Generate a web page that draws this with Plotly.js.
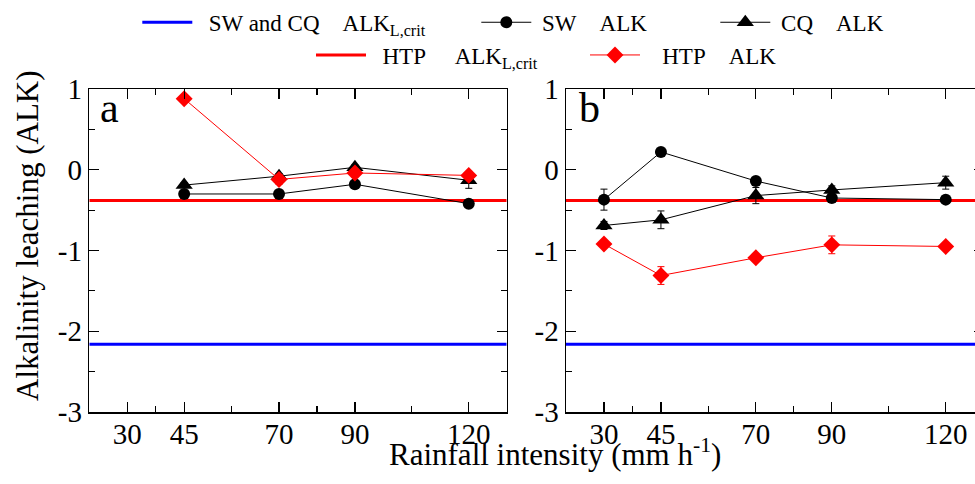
<!DOCTYPE html>
<html><head><meta charset="utf-8">
<script src="https://cdn.plot.ly/plotly-3.0.1.min.js"></script>
<style>html,body{margin:0;padding:0;overflow:hidden;background:#fff}</style>
</head><body><div id="chart" style="width:990px;height:484px"></div>
<script>
// Panel a (HTP / SW / CQ at 45-120 mm/h)
const xA = [45, 70, 90, 120];
const swA = [-0.30, -0.30, -0.18, -0.42];
const swAerr = [0.02, 0.02, 0.03, 0.03];
const cqA = [-0.19, -0.08, 0.03, -0.13];
const cqAerr = [0.03, 0.03, 0.03, 0.10];
const htpA = [0.88, -0.12, -0.04, -0.07];
const htpAerr = [0.02, 0.06, 0.05, 0.03];

// Panel b (30-120 mm/h)
const xB = [30, 45, 70, 90, 120];
const swB = [-0.37, 0.22, -0.14, -0.35, -0.37];
const swBerr = [0.13, 0.02, 0.03, 0.03, 0.03];
const cqB = [-0.69, -0.62, -0.32, -0.25, -0.16];
const cqBerr = [0.05, 0.11, 0.10, 0.05, 0.08];
const htpB = [-0.92, -1.31, -1.09, -0.93, -0.95];
const htpBerr = [0.03, 0.11, 0.03, 0.11, 0.03];

// Critical ALK values
const critSWCQ = -2.16;
const critHTP = -0.38;

const xRange = [20, 130];
const yRange = [-3, 1];
const xTicks = [30, 45, 70, 90, 120];
const xMinorTicks = [37.5, 57.5, 80, 105];
const yTicks = [-3, -2, -1, 0, 1];
const yTickText = ['-3', '-2', '-1', '0', '1'];
const yMinorTicks = [-2.5, -1.5, -0.5, 0.5];

const labels = {
  critSWCQ: '\u00a0\u00a0SW and CQ\u00a0\u00a0\u00a0\u00a0ALK<sub>L,crit</sub>',
  sw: '\u00a0SW\u00a0\u00a0\u00a0\u00a0ALK',
  cq: '\u00a0CQ\u00a0\u00a0\u00a0\u00a0ALK',
  critHTP: '\u00a0\u00a0HTP\u00a0\u00a0\u00a0\u00a0\u00a0ALK<sub>L,crit</sub>',
  htp: '\u00a0\u00a0\u00a0HTP\u00a0\u00a0\u00a0\u00a0ALK'
};

const FONT = 'Liberation Serif';
const W = 990, H = 484;
const mT = 89, mB = 72;
const PH = H - mT - mB;

function critLine(val, color, xa, ya, show, name, legend, rank, width) {
  return {
    type: 'scatter', mode: 'lines', x: xRange, y: [val, val], xaxis: xa, yaxis: ya,
    line: {color: color, width: 3}, name: name, showlegend: show, legend: legend,
    legendrank: rank, legendwidth: width, hoverinfo: 'skip', cliponaxis: false
  };
}
function series(x, y, err, color, sym, size, xa, ya, show, name, legend, rank, width) {
  return {
    type: 'scatter', mode: 'lines+markers', x: x, y: y, xaxis: xa, yaxis: ya,
    line: {color: color, width: 1},
    marker: {symbol: sym, size: size, color: color},
    error_y: {type: 'data', array: err, color: color, thickness: 1, width: 3.5},
    name: name, showlegend: show, legend: legend, legendrank: rank, legendwidth: width,
    cliponaxis: false
  };
}

const traces = [
  critLine(critSWCQ, '#0000ff', 'x', 'y', true, labels.critSWCQ, 'legend', 1, 274),
  critLine(critSWCQ, '#0000ff', 'x2', 'y2', false, labels.critSWCQ, 'legend', 1, 274),
  critLine(critHTP, '#ff0000', 'x', 'y', true, labels.critHTP, 'legend2', 1, 209),
  critLine(critHTP, '#ff0000', 'x2', 'y2', false, labels.critHTP, 'legend2', 1, 209),
  series(xA, swA, swAerr, '#000000', 'circle', 12, 'x', 'y', true, labels.sw, 'legend', 2, 174),
  series(xB, swB, swBerr, '#000000', 'circle', 12, 'x2', 'y2', false, labels.sw, 'legend', 2, 174),
  series(xA, cqA, cqAerr, '#000000', 'triangle-up', 15, 'x', 'y', true, labels.cq, 'legend', 3, 0),
  series(xB, cqB, cqBerr, '#000000', 'triangle-up', 15, 'x2', 'y2', false, labels.cq, 'legend', 3, 0),
  series(xA, htpA, htpAerr, '#ff0000', 'diamond', 13, 'x', 'y', true, labels.htp, 'legend2', 2, 0),
  series(xB, htpB, htpBerr, '#ff0000', 'diamond', 13, 'x2', 'y2', false, labels.htp, 'legend2', 2, 0)
];

function xAxis(domain, anchor) {
  return {
    domain: domain, anchor: anchor, range: xRange, tickmode: 'array', tickvals: xTicks,
    ticks: 'inside', ticklen: 10, tickwidth: 1.2, tickcolor: '#000',
    showline: true, linecolor: '#000', linewidth: 1.5, mirror: 'ticks',
    showgrid: false, zeroline: false, automargin: false, ticklabelstandoff: -4,
    tickfont: {family: FONT, size: 29, color: '#000'},
    minor: {tickmode: 'array', tickvals: xMinorTicks, ticks: 'inside', ticklen: 6, tickwidth: 1.2, tickcolor: '#000', showgrid: false}
  };
}
function yAxis(anchor) {
  return {
    domain: [0, 1], anchor: anchor, range: yRange, tickmode: 'array', tickvals: yTicks, ticktext: yTickText,
    ticks: 'inside', ticklen: 10, tickwidth: 1.2, tickcolor: '#000',
    showline: true, linecolor: '#000', linewidth: 1.5, mirror: 'ticks',
    showgrid: false, zeroline: false, automargin: false,
    tickfont: {family: FONT, size: 29, color: '#000'},
    minor: {tickmode: 'array', tickvals: yMinorTicks, ticks: 'inside', ticklen: 6, tickwidth: 1.2, tickcolor: '#000', showgrid: false}
  };
}

const px = v => v / W;
const py = v => (H - mB - v) / PH;

const layout = {
  width: W, height: H,
  margin: {l: 0, r: 0, t: mT, b: mB, pad: 0},
  paper_bgcolor: '#fff', plot_bgcolor: '#fff',
  font: {family: FONT, color: '#000'},
  showlegend: true,
  xaxis: xAxis([px(89.3), px(506.7)], 'y'),
  yaxis: yAxis('x'),
  xaxis2: xAxis([px(566), px(983.7)], 'y2'),
  yaxis2: yAxis('x2'),
  legend: {orientation: 'h', x: px(137.3), xanchor: 'left', y: py(22.3), yanchor: 'middle',
    itemwidth: 50, font: {family: FONT, size: 23, color: '#000'}, bgcolor: 'rgba(0,0,0,0)', borderwidth: 0},
  legend2: {orientation: 'h', x: px(311), xanchor: 'left', y: py(55), yanchor: 'middle',
    itemwidth: 50, font: {family: FONT, size: 23, color: '#000'}, bgcolor: 'rgba(0,0,0,0)', borderwidth: 0},
  annotations: [
    {text: 'a', xref: 'paper', yref: 'paper', x: px(98), y: py(108), xanchor: 'left', yanchor: 'middle', showarrow: false,
     font: {family: FONT, size: 42, color: '#000'}},
    {text: 'b', xref: 'paper', yref: 'paper', x: px(577), y: py(108), xanchor: 'left', yanchor: 'middle', showarrow: false,
     font: {family: FONT, size: 42, color: '#000'}},
    {text: 'Rainfall intensity (mm h<sup>-1</sup>)', xref: 'paper', yref: 'paper', x: px(555), y: py(453), xanchor: 'center', yanchor: 'middle', showarrow: false,
     font: {family: FONT, size: 31, color: '#000'}},
    {text: 'Alkalinity leaching (ALK)', xref: 'paper', yref: 'paper', x: px(27), y: py(236), xanchor: 'center', yanchor: 'middle', textangle: -90, showarrow: false,
     font: {family: FONT, size: 31, color: '#000'}}
  ]
};

Plotly.newPlot('chart', traces, layout, {displayModeBar: false, staticPlot: true});
</script></body></html>
